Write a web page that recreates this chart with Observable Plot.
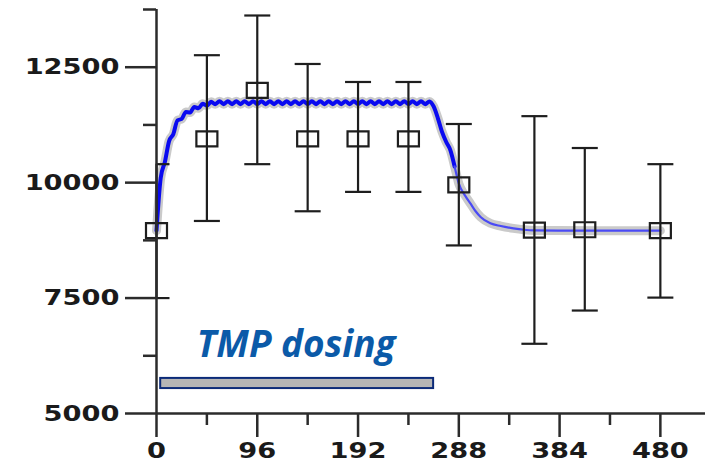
<!DOCTYPE html>
<html><head><meta charset="utf-8">
<script src="https://cdn.jsdelivr.net/npm/d3@7"></script>
<script src="https://cdn.jsdelivr.net/npm/@observablehq/plot@0.6"></script>
<style>
html,body{margin:0;padding:0;background:#fff;}
#chart svg{display:block;}
</style>
</head><body><div id="chart"></div>
<script>
// Observations (time in h, mean, error bar low/high)
const obsTime = [0, 48, 96, 144, 192, 240, 288, 360, 408, 480];
const obsMean = [8960, 10950, 12000, 10950, 10950, 10950, 9950, 8970, 8980, 8960];
const obsLow  = [7500, 9170, 10400, 9380, 9800, 9800, 8640, 6510, 7230, 7510];
const obsHigh = [10400, 12760, 13620, 12570, 12180, 12180, 11270, 11440, 10750, 10400];

// Model prediction curve
const modelTime = [0,4,8,12,16,20,24,28,32,36,40,44,48,52,56,60,64,68,72,76,80,84,88,92,96,100,104,108,112,116,120,124,128,132,136,140,144,148,152,156,160,164,168,172,176,180,184,188,192,196,200,204,208,212,216,220,224,228,232,236,240,244,248,252,256,260,264,268,272,276,280,284,288,294,299,304,309,318,328,340,350,360,420,480];
const modelValue = [8960,10100,10450,10900,11050,11350,11380,11530,11520,11640,11610,11710,11670,11750,11700,11765,11700,11765,11700,11765,11700,11765,11700,11765,11700,11765,11700,11765,11700,11765,11700,11765,11700,11765,11700,11765,11700,11765,11700,11765,11700,11765,11700,11765,11700,11765,11700,11765,11700,11765,11700,11765,11700,11765,11700,11765,11700,11765,11700,11765,11700,11765,11700,11765,11700,11760,11650,11400,11100,10880,10700,10350,9980,9720,9550,9380,9250,9120,9060,9010,8980,8965,8960,8960];

// Dosing period bar and label
const dosingStart = 4, dosingEnd = 264, dosingLow = 5540, dosingHigh = 5760;
const dosingLabel = "TMP dosing";
const labelTime = 133, labelValue = 6470;

// Axis ticks
const yMajorTicks = [5000, 7500, 10000, 12500];
const yMinorTicks = [6250, 8750, 11250, 13750];
const xMajorTicks = [0, 96, 192, 288, 384, 480];
const xMinorTicks = [48, 144, 240, 336, 432];

const obs = obsTime.map((t, i) => ({t, mean: obsMean[i], low: obsLow[i], high: obsHigh[i]}));
const model = modelTime.map((t, i) => ({t, v: modelValue[i]}));

const capSymbol = {draw(ctx) { ctx.moveTo(-13, 0); ctx.lineTo(13, 0); }};
const boxSymbol = {draw(ctx) { ctx.moveTo(-10.5, -7.5); ctx.lineTo(10.5, -7.5); ctx.lineTo(10.5, 7.5); ctx.lineTo(-10.5, 7.5); ctx.closePath(); }};

const axisColor = "#2b2b2b";
const fmt = d3.format("d");
const plot = Plot.plot({
  width: 705, height: 469,
  marginLeft: 156, marginRight: 0, marginTop: 9, marginBottom: 56,
  x: {domain: [0, 523]},
  y: {domain: [5000, 13750]},
  style: {fontFamily: "DejaVu Sans", background: "#fff", color: "#1a1a1a"},
  marks: [
    Plot.rect([{a: dosingStart, b: dosingEnd, c: dosingLow, d: dosingHigh}], {x1: "a", x2: "b", y1: "c", y2: "d", fill: "#b5b5b5", stroke: "#0b2a78", strokeWidth: 2}),
    Plot.text([dosingLabel], {x: labelTime, y: labelValue, text: d => d, fontSize: 37, fontWeight: "bold", fontStyle: "italic", fill: "#0b5aa8", fontFamily: "Open Sans"}),
    Plot.line(model, {x: "t", y: "v", stroke: "#cacaca", strokeWidth: 9, curve: "monotone-x"}),
    Plot.line(model, {filter: d => d.t <= 284, x: "t", y: "v", stroke: "#0a0af0", strokeWidth: 4, curve: "monotone-x"}),
    Plot.line(model, {filter: d => d.t >= 284, x: "t", y: "v", stroke: "#4a4af5", strokeWidth: 2.2, curve: "monotone-x"}),
    Plot.ruleX(obs, {x: "t", y1: "low", y2: "high", stroke: "#1e1e1e", strokeWidth: 2.2}),
    Plot.dot(obs, {x: "t", y: "low", symbol: capSymbol, stroke: "#1e1e1e", strokeWidth: 2.2, fill: "none", clip: true}),
    Plot.dot(obs, {x: "t", y: "high", symbol: capSymbol, stroke: "#1e1e1e", strokeWidth: 2.2, fill: "none", clip: true}),
    Plot.dot(obs, {x: "t", y: "mean", symbol: boxSymbol, stroke: "#1e1e1e", strokeWidth: 2.2, fill: "none"}),
    Plot.ruleX([0], {y1: 5000, y2: 13750, stroke: axisColor, strokeWidth: 2.5}),
    Plot.ruleY([5000], {x1: 0, x2: 523, stroke: axisColor, strokeWidth: 2.5}),
    Plot.axisY(yMajorTicks, {tickSize: 31, tickPadding: 6, tickFormat: fmt, fontSize: 22, fontWeight: "bold", stroke: axisColor, strokeWidth: 2.5, fill: "#1a1a1a", label: null}),
    Plot.axisY(yMinorTicks, {tickSize: 13, tickFormat: () => "", stroke: axisColor, strokeWidth: 2.5, label: null}),
    Plot.axisX(xMajorTicks, {tickSize: 24, tickPadding: 5, tickFormat: fmt, fontSize: 22, fontWeight: "bold", stroke: axisColor, strokeWidth: 2.5, fill: "#1a1a1a", label: null}),
    Plot.axisX(xMinorTicks, {tickSize: 12, tickFormat: () => "", stroke: axisColor, strokeWidth: 2.5, label: null})
  ]
});
document.getElementById("chart").appendChild(plot);

// widen the tick-label glyphs horizontally, as in the reference
plot.querySelectorAll('g[aria-label="y-axis tick label"] text, g[aria-label="x-axis tick label"] text').forEach(el => {
  const tr = el.getAttribute("transform") || "";
  const x = +el.getAttribute("x") || 0;
  el.setAttribute("transform", `${tr} translate(${x},0) scale(1.24,1) translate(${-x},0)`);
});
</script>
</body></html>
